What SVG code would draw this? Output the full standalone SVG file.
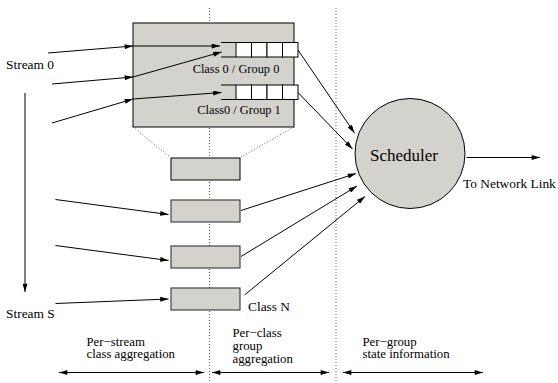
<svg xmlns="http://www.w3.org/2000/svg" width="558" height="383" viewBox="0 0 558 383">
  <defs>
    <marker id="arr" viewBox="0 0 10 6" refX="10" refY="3" markerWidth="9" markerHeight="5" markerUnits="userSpaceOnUse" orient="auto-start-reverse">
      <path d="M0,0 L10,3 L0,6 Z" fill="#000"/>
    </marker>
    <style>
      text { font-family: "Liberation Serif", "Times New Roman", serif; fill: #000; stroke: none; }
      .lbl { font-size: 13.4px; }
      .cap { font-size: 12.8px; }
      .q { font-size: 12.4px; }
      .box { fill: #d3d2cd; stroke: #000; stroke-width: 1; }
      .sbox { fill: #d3d2cd; stroke: #444; stroke-width: 1.2; }
      .cell { fill: #fff; stroke: #000; stroke-width: 1; }
      .ln { stroke: #000; stroke-width: 1; fill: none; }
      .ar { stroke: #000; stroke-width: 1; fill: none; marker-end: url(#arr); }
      .dar { stroke: #000; stroke-width: 1; fill: none; marker-start: url(#arr); marker-end: url(#arr); }
      .dot { stroke: #666; stroke-width: 1; stroke-dasharray: 1 2; fill: none; }
    </style>
  </defs>
  <rect width="558" height="383" fill="#fff"/>

  <!-- column separators -->
  <g id="separators">
    <line class="dot" x1="209.5" y1="8" x2="209.5" y2="383"/>
    <line class="dot" x1="336" y1="8" x2="336" y2="383"/>
  </g>

  <!-- per-stream aggregation block with two group queues -->
  <g id="aggregator">
    <rect class="box" x="133" y="23" width="161" height="104"/>
    <line class="dot" x1="133" y1="127" x2="170" y2="157"/>
    <line class="dot" x1="294" y1="127" x2="241" y2="157"/>
  </g>
  <g id="queue0">
    <line class="ln" x1="221" y1="42.5" x2="236" y2="42.5"/>
    <line class="ln" x1="221" y1="57" x2="236" y2="57"/>
    <rect class="cell" x="236" y="42.5" width="15.5" height="14.5"/>
    <rect class="cell" x="251.5" y="42.5" width="15.5" height="14.5"/>
    <rect class="cell" x="267" y="42.5" width="15.5" height="14.5"/>
    <rect class="cell" x="282.5" y="42.5" width="15.5" height="14.5"/>
    <text class="q" x="236" y="73" text-anchor="middle">Class 0 / Group 0</text>
  </g>
  <g id="queue1">
    <line class="ln" x1="221" y1="85" x2="236" y2="85"/>
    <line class="ln" x1="221" y1="99.5" x2="236" y2="99.5"/>
    <rect class="cell" x="236" y="85" width="15.5" height="14.5"/>
    <rect class="cell" x="251.5" y="85" width="15.5" height="14.5"/>
    <rect class="cell" x="267" y="85" width="15.5" height="14.5"/>
    <rect class="cell" x="282.5" y="85" width="15.5" height="14.5"/>
    <text class="q" x="239" y="114" text-anchor="middle">Class0 / Group 1</text>
  </g>

  <!-- class aggregation boxes -->
  <g id="class-box-a"><rect class="box" x="171" y="158" width="69" height="22"/></g>
  <g id="class-box-b"><rect class="sbox" x="171" y="200" width="69" height="22"/></g>
  <g id="class-box-c"><rect class="sbox" x="171" y="246" width="69" height="22"/></g>
  <g id="class-box-n">
    <rect class="sbox" x="171" y="288" width="69" height="22"/>
    <text class="lbl" x="248" y="310.5">Class N</text>
  </g>

  <!-- scheduler -->
  <g id="scheduler">
    <circle cx="410" cy="153.5" r="55" fill="#d3d2cd" stroke="#000" stroke-width="1"/>
    <text x="404" y="161" text-anchor="middle" font-size="17">Scheduler</text>
  </g>

  <!-- stream labels -->
  <g id="streams">
    <text class="lbl" x="6" y="68.5">Stream 0</text>
    <text class="lbl" x="6" y="317.5">Stream S</text>
  </g>

  <!-- connectors -->
  <g id="connectors">
    <line class="ar" x1="48" y1="53" x2="133" y2="46"/>
    <line class="ar" x1="133" y1="46" x2="220" y2="46"/>
    <line class="ar" x1="52" y1="84" x2="133" y2="77"/>
    <line class="ar" x1="133" y1="77" x2="221.5" y2="52"/>
    <line class="ar" x1="52" y1="123" x2="133" y2="99"/>
    <line class="ar" x1="133" y1="99" x2="221.5" y2="92.5"/>

    <line class="ar" x1="25" y1="93" x2="25" y2="292"/>

    <line class="ar" x1="55.5" y1="199.5" x2="168.5" y2="214.5"/>
    <line class="ar" x1="55.5" y1="245.5" x2="168.5" y2="260.5"/>
    <line class="ar" x1="55.5" y1="303.5" x2="168.5" y2="299"/>

    <line class="ar" x1="298" y1="50" x2="354.5" y2="133"/>
    <line class="ar" x1="298" y1="92.5" x2="352.5" y2="149"/>
    <line class="ar" x1="241" y1="210.5" x2="356" y2="173.5"/>
    <line class="ar" x1="241" y1="256.5" x2="357" y2="186"/>
    <line class="ar" x1="244.5" y1="295" x2="365" y2="196.5"/>

    <line class="ar" x1="466.5" y1="157.5" x2="540" y2="157.5"/>
  </g>
  <text class="lbl" x="463" y="187.5">To Network Link</text>

  <!-- column captions -->
  <g id="captions">
    <text class="cap" x="86.5" y="345.5">Per&#8722;stream</text>
    <text class="cap" x="86.5" y="358.3">class aggregation</text>
    <text class="cap" x="232.5" y="337">Per&#8722;class</text>
    <text class="cap" x="232.5" y="350">group</text>
    <text class="cap" x="232.5" y="363">aggregation</text>
    <text class="cap" x="362.5" y="345.5">Per&#8722;group</text>
    <text class="cap" x="362.5" y="358.3">state information</text>
    <line class="dar" x1="59" y1="372.5" x2="204" y2="372.5"/>
    <line class="dar" x1="212" y1="372.5" x2="329" y2="372.5"/>
    <line class="dar" x1="343" y1="372.5" x2="483" y2="372.5"/>
  </g>
</svg>
